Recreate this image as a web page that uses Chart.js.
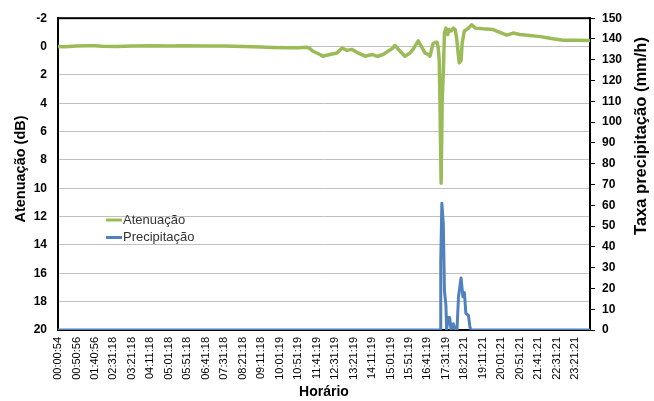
<!DOCTYPE html>
<html>
<head>
<meta charset="utf-8">
<script src="https://cdn.jsdelivr.net/npm/chart.js@4"></script>
<style>
  body { margin: 0; background: #fff; }
</style>
</head>
<body>
<canvas id="grafico" width="654" height="401"></canvas>
<script>
// Minutos desde o início da medição e atenuação (dB)
const atenMin = [0, 15, 30, 50, 80, 100, 120, 160, 200, 250, 300, 340, 400, 450, 500, 550, 580, 620, 650, 674,
  682, 690, 709, 717, 736, 755, 769, 782, 796, 812, 831, 850, 864, 880, 893, 904, 912, 926, 939, 953,
  961, 975, 988, 993, 1002, 1007, 1015, 1022, 1026, 1029, 1032, 1034, 1037, 1040, 1043, 1046, 1050, 1055, 1058, 1064,
  1070, 1075, 1079, 1084, 1086, 1091, 1094, 1100, 1111, 1120, 1130, 1150, 1178, 1196, 1215, 1232, 1250, 1270, 1305, 1340,
  1367, 1400, 1439];
const atenDb = [0, 0.02, 0, -0.03, -0.05, -0.06, -0.02, 0, -0.03, -0.05, -0.04, -0.06, -0.04, -0.03, 0, 0.03, 0.06, 0.08, 0.08, 0.05,
  0.15, 0.33, 0.56, 0.68, 0.56, 0.45, 0.1, 0.27, 0.2, 0.45, 0.68, 0.56, 0.7, 0.56, 0.33, 0.15, -0.07, 0.33, 0.68, 0.45,
  0.2, -0.4, 0.2, 0.45, 0.56, 0.68, -0.2, -0.3, -0.3, 0.05, 1.0, 4.1, 9.65, 3.7, 1.8, -0.95, -1.3, -0.85, -1.2, -1.1,
  -1.3, -1.2, -0.6, 0.68, 1.15, 1.0, -0.25, -1.1, -1.3, -1.53, -1.3, -1.25, -1.2, -1.0, -0.8, -0.95, -0.85, -0.8, -0.7, -0.55,
  -0.45, -0.45, -0.42];

// Minutos e taxa de precipitação (mm/h)
const precMin = [0, 1034, 1036, 1039, 1043, 1046, 1050, 1052, 1056, 1060, 1064, 1067, 1070, 1075, 1080, 1084, 1091, 1096, 1100, 1104, 1111, 1115, 1118, 1439];
const precMm = [0, 0, 33, 61, 51, 19, 12, 0, 6, 6, 0, 2, 3, 0, 0, 16, 25, 16, 18, 8, 7, 1.5, 0, 0];

// Rótulos do eixo horizontal (a cada 50 minutos)
const horarios = ["00:00:54", "00:50:56", "01:40:56", "02:31:18", "03:21:18", "04:11:18", "05:01:18", "05:51:18",
  "06:41:18", "07:31:18", "08:21:18", "09:11:18", "10:01:19", "10:51:19", "11:41:19", "12:31:19", "13:21:19",
  "14:11:19", "15:01:19", "15:51:19", "16:41:19", "17:31:19", "18:21:21", "19:11:21", "20:01:21", "20:51:21",
  "21:41:21", "22:31:21", "23:21:21"];
const passoRotulo = 50;

const verde = '#9bbb59';
const azul = '#4f81bd';
const fonte = '"Liberation Sans", Arial, sans-serif';

function pares(xs, ys) {
  return xs.map((x, i) => ({ x: x, y: ys[i] }));
}

// Moldura, títulos verticais e legenda dentro da área de plotagem
const moldura = {
  id: 'moldura',
  beforeDatasetsDraw(chart) {
    const a = chart.chartArea;
    const ctx = chart.ctx;
    ctx.save();
    ctx.strokeStyle = '#000';
    ctx.lineWidth = 2;
    ctx.strokeRect(a.left, a.top, a.right - a.left, a.bottom - a.top);
    ctx.restore();
  },
  afterDraw(chart) {
    const ctx = chart.ctx;
    ctx.save();
    ctx.fillStyle = '#000';
    ctx.textAlign = 'center';
    ctx.textBaseline = 'middle';

    // título do eixo esquerdo
    ctx.save();
    ctx.translate(21, 169);
    ctx.rotate(-Math.PI / 2);
    ctx.font = 'bold 14.5px ' + fonte;
    ctx.fillText('Atenuação (dB)', 0, 0);
    ctx.restore();

    // título do eixo direito (lido de baixo para cima, como no original)
    ctx.save();
    ctx.translate(641, 136);
    ctx.rotate(-Math.PI / 2);
    ctx.font = 'bold 16.5px ' + fonte;
    ctx.fillText('Taxa precipitação (mm/h)', 0, 0);
    ctx.restore();

    // legenda
    ctx.textAlign = 'left';
    ctx.font = '13px ' + fonte;
    chart.data.datasets.forEach((ds, i) => {
      const y = 220 + i * 17.5;
      ctx.strokeStyle = ds.borderColor;
      ctx.lineWidth = 3;
      ctx.beginPath();
      ctx.moveTo(106, y);
      ctx.lineTo(122, y);
      ctx.stroke();
      ctx.fillStyle = '#333';
      ctx.fillText(ds.label, 123, y);
    });
    ctx.restore();
  }
};

const ctx = document.getElementById('grafico').getContext('2d');
new Chart(ctx, {
  type: 'line',
  data: {
    datasets: [{
      label: 'Atenuação',
      data: pares(atenMin, atenDb),
      borderColor: verde,
      borderWidth: 3.5,
      yAxisID: 'y',
      order: 1
    }, {
      label: 'Precipitação',
      data: pares(precMin, precMm),
      borderColor: azul,
      borderWidth: 3,
      yAxisID: 'y2',
      order: 0
    }]
  },
  options: {
    responsive: false,
    animation: false,
    layout: { padding: { top: 15, left: 0, right: 0, bottom: 0 } },
    elements: {
      point: { radius: 0 },
      line: { tension: 0, borderJoinStyle: 'round', borderCapStyle: 'round' }
    },
    plugins: {
      legend: { display: false },
      tooltip: { enabled: false }
    },
    scales: {
      x: {
        type: 'linear',
        min: 0,
        max: 1440,
        afterBuildTicks(scale) {
          scale.ticks = horarios.map((h, i) => ({ value: i * passoRotulo }));
        },
        afterFit(scale) { scale.height = 71; },
        grid: { display: false, drawTicks: false },
        border: { display: false },
        ticks: {
          autoSkip: false,
          minRotation: 90,
          maxRotation: 90,
          padding: 7,
          color: '#000',
          font: { family: fonte, size: 11 },
          callback: (v) => horarios[Math.round(v / passoRotulo)]
        },
        title: {
          display: true,
          text: 'Horário',
          color: '#000',
          padding: { top: 0, bottom: 0 },
          font: { family: fonte, size: 14, weight: 'bold' }
        }
      },
      y: {
        position: 'left',
        reverse: true,
        min: -2,
        max: 20,
        afterFit(scale) { scale.width = 58; },
        grid: { color: '#c0c0c0', drawTicks: false },
        border: { color: '#000', width: 2 },
        ticks: {
          stepSize: 2,
          padding: 11,
          color: '#000',
          font: { family: fonte, size: 12, weight: 'bold' }
        }
      },
      y2: {
        position: 'right',
        min: 0,
        max: 150,
        afterFit(scale) { scale.width = 64; },
        grid: { drawOnChartArea: false, color: '#000', tickLength: 5 },
        border: { color: '#000', width: 2 },
        ticks: {
          stepSize: 10,
          padding: 7,
          color: '#000',
          font: { family: fonte, size: 12, weight: 'bold' }
        }
      }
    }
  },
  plugins: [moldura]
});
</script>
</body>
</html>
